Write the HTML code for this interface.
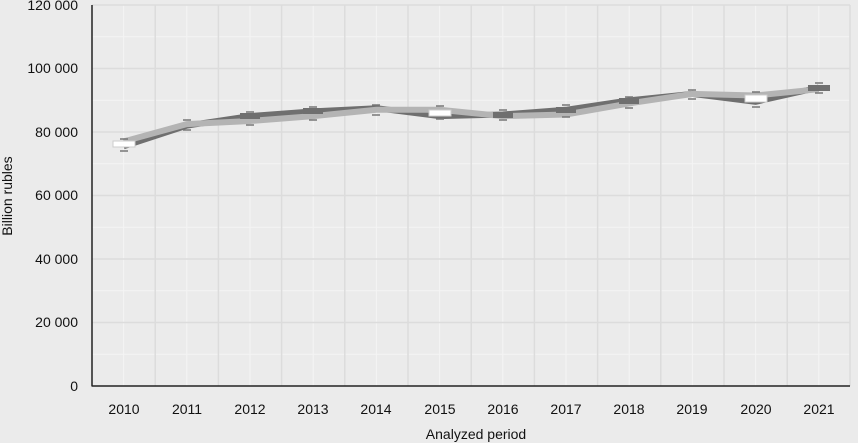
<!DOCTYPE html><html><head><style>body{margin:0;background:#ebebeb}svg{display:block}text{font-family:"Liberation Sans",sans-serif;fill:#111}</style></head><body>
<svg width="858" height="443" xmlns="http://www.w3.org/2000/svg">
<rect width="858" height="443" fill="#ebebeb"/>
<g stroke="#f4f4f4" stroke-width="1">
<line x1="92" x2="850" y1="36.8" y2="36.8"/><line x1="92" x2="850" y1="100.3" y2="100.3"/><line x1="92" x2="850" y1="163.8" y2="163.8"/><line x1="92" x2="850" y1="227.3" y2="227.3"/><line x1="92" x2="850" y1="290.8" y2="290.8"/><line x1="92" x2="850" y1="354.3" y2="354.3"/>
<line y1="5" y2="386" x1="123.6" x2="123.6"/><line y1="5" y2="386" x1="186.8" x2="186.8"/><line y1="5" y2="386" x1="250" x2="250"/><line y1="5" y2="386" x1="313.2" x2="313.2"/><line y1="5" y2="386" x1="376.4" x2="376.4"/><line y1="5" y2="386" x1="439.6" x2="439.6"/><line y1="5" y2="386" x1="502.8" x2="502.8"/><line y1="5" y2="386" x1="566" x2="566"/><line y1="5" y2="386" x1="629.2" x2="629.2"/><line y1="5" y2="386" x1="692.4" x2="692.4"/><line y1="5" y2="386" x1="755.6" x2="755.6"/><line y1="5" y2="386" x1="818.8" x2="818.8"/>
</g>
<g stroke="#dcdcdc" stroke-width="1.5">
<line x1="92" x2="850" y1="5" y2="5"/><line x1="92" x2="850" y1="68.5" y2="68.5"/><line x1="92" x2="850" y1="132" y2="132"/><line x1="92" x2="850" y1="195.5" y2="195.5"/><line x1="92" x2="850" y1="259" y2="259"/><line x1="92" x2="850" y1="322.5" y2="322.5"/>
<line y1="5" y2="386" x1="155.2" x2="155.2"/><line y1="5" y2="386" x1="218.4" x2="218.4"/><line y1="5" y2="386" x1="281.6" x2="281.6"/><line y1="5" y2="386" x1="344.8" x2="344.8"/><line y1="5" y2="386" x1="408" x2="408"/><line y1="5" y2="386" x1="471.2" x2="471.2"/><line y1="5" y2="386" x1="534.4" x2="534.4"/><line y1="5" y2="386" x1="597.6" x2="597.6"/><line y1="5" y2="386" x1="660.8" x2="660.8"/><line y1="5" y2="386" x1="724" x2="724"/><line y1="5" y2="386" x1="787.2" x2="787.2"/><line y1="5" y2="386" x1="850" x2="850"/>
</g>
<polyline fill="none" stroke="#6f6f6f" stroke-width="6" points="123.6,146.3 186.8,125.6 250,116.1 313.2,111.4 376.4,108.2 439.6,116.1 502.8,114.5 566,109.8 629.2,100.3 692.4,93.9 755.6,101.8 818.8,87.6"/>
<polyline fill="none" stroke="#b4b4b4" stroke-width="6" points="123.6,141.5 186.8,124.1 250,121 313.2,116.1 376.4,109.8 439.6,109.8 502.8,116.1 566,114.5 629.2,103.4 692.4,93.9 755.6,95.5 818.8,89.2"/>
<g fill="#fff" stroke="#ccc"><rect x="113" y="141" width="22" height="6"/><rect x="429" y="110" width="22" height="6"/><rect x="745" y="95" width="22" height="7"/></g>
<g fill="#6f6f6f"><rect x="240" y="113" width="20" height="6"/><rect x="303" y="108" width="20" height="6"/><rect x="493" y="112" width="20" height="6"/><rect x="556" y="107" width="20" height="6"/><rect x="619" y="98" width="20" height="6"/><rect x="808" y="85" width="22" height="6"/></g>
<g stroke="#777" stroke-width="1.5">
<line x1="120" x2="128" y1="139" y2="139"/><line x1="120" x2="128" y1="151" y2="151"/><line x1="183" x2="191" y1="120" y2="120"/><line x1="183" x2="191" y1="130" y2="130"/><line x1="246" x2="254" y1="112" y2="112"/><line x1="246" x2="254" y1="125" y2="125"/><line x1="309" x2="317" y1="107" y2="107"/><line x1="309" x2="317" y1="120" y2="120"/><line x1="372" x2="380" y1="105" y2="105"/><line x1="372" x2="380" y1="115" y2="115"/><line x1="436" x2="444" y1="106" y2="106"/><line x1="436" x2="444" y1="119" y2="119"/><line x1="499" x2="507" y1="110" y2="110"/><line x1="499" x2="507" y1="120" y2="120"/><line x1="562" x2="570" y1="105" y2="105"/><line x1="562" x2="570" y1="117" y2="117"/><line x1="625" x2="633" y1="97" y2="97"/><line x1="625" x2="633" y1="108" y2="108"/><line x1="688" x2="696" y1="90" y2="90"/><line x1="688" x2="696" y1="99" y2="99"/><line x1="752" x2="760" y1="92" y2="92"/><line x1="752" x2="760" y1="107" y2="107"/><line x1="815" x2="823" y1="83" y2="83"/><line x1="815" x2="823" y1="93" y2="93"/>
</g>
<line x1="92" y1="5" x2="92" y2="386.5" stroke="#222" stroke-width="1.5"/>
<line x1="92" y1="386" x2="850" y2="386" stroke="#222" stroke-width="1.5"/>
<g font-size="14" text-anchor="end">
<text x="78" y="10">120 000</text><text x="78" y="73">100 000</text><text x="78" y="137">80 000</text><text x="78" y="200">60 000</text><text x="78" y="264">40 000</text><text x="78" y="327">20 000</text><text x="78" y="391">0</text>
</g>
<g font-size="14" text-anchor="middle">
<text x="124" y="414">2010</text><text x="187" y="414">2011</text><text x="250" y="414">2012</text><text x="313" y="414">2013</text><text x="376" y="414">2014</text><text x="440" y="414">2015</text><text x="503" y="414">2016</text><text x="566" y="414">2017</text><text x="629" y="414">2018</text><text x="692" y="414">2019</text><text x="756" y="414">2020</text><text x="819" y="414">2021</text>
<text x="476" y="439">Analyzed period</text>
<text transform="translate(12,196) rotate(-90)">Billion rubles</text>
</g>
</svg></body></html>
